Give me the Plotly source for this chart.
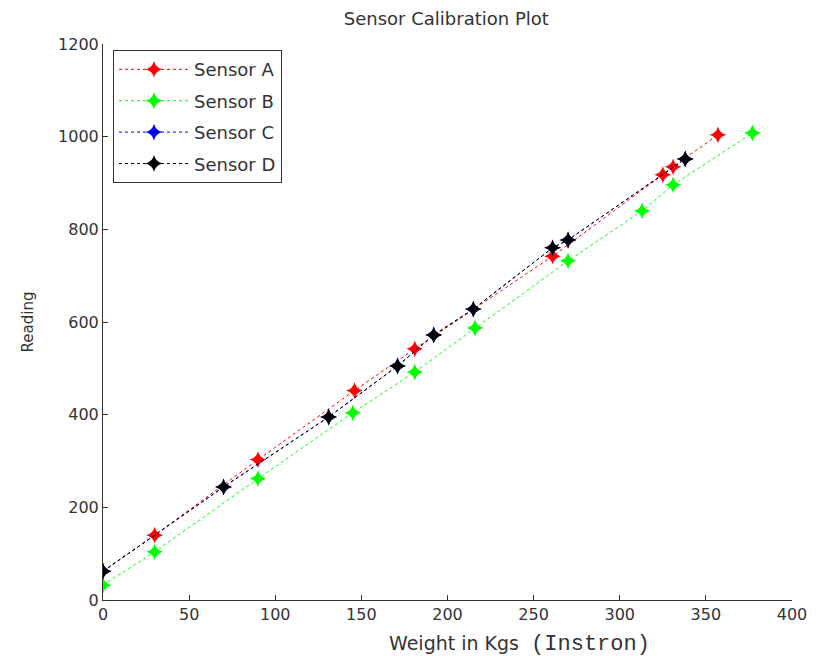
import plotly.graph_objects as go

# Data
a_x = [0, 30, 90, 146, 181, 261, 325, 331, 357]
a_y = [62, 140, 303, 452, 542, 742, 918, 935, 1004]
b_x = [0, 30, 90, 145, 181, 216, 270, 313, 331, 377]
b_y = [32, 104, 262, 404, 492, 587, 732, 840, 896, 1008]
c_x = [0, 70, 131, 171, 192, 215, 261, 270, 338]
c_y = [62, 244, 395, 505, 572, 628, 760, 777, 952]
d_x = [0, 70, 131, 171, 192, 215, 261, 270, 338]
d_y = [62, 244, 395, 505, 572, 628, 760, 777, 952]

names = ["Sensor A", "Sensor B", "Sensor C", "Sensor D"]
colors = ["#ff0000", "#00ff00", "#0000ff", "#000000"]
xs = [a_x, b_x, c_x, d_x]
ys = [a_y, b_y, c_y, d_y]

FONT = "DejaVu Sans, Verdana, Arial"
TXT = "#333"

fig = go.Figure()
for i, (n, c, x, y) in enumerate(zip(names, colors, xs, ys)):
    fig.add_trace(go.Scatter(
        x=x, y=y, name=n, mode="lines+markers",
        legendgroup=n,
        line=dict(color=c, dash="dot", width=1),
        marker=dict(symbol="star-diamond", size=12, color=c,
                    line=dict(width=0)),
    ))

axis_common = dict(
    showgrid=False, zeroline=False, showline=True, linecolor="#333",
    linewidth=1, ticks="inside", ticklen=5, tickcolor="#333",
    tickfont=dict(family=FONT, size=16, color=TXT),
    mirror=False,
)

fig.update_layout(
    width=825, height=656,
    paper_bgcolor="white", plot_bgcolor="white",
    margin=dict(l=103, r=33, t=44, b=56),
    title=dict(text="Sensor Calibration Plot", x=0.541, xanchor="center",
               y=0.972, yanchor="middle",
               font=dict(family=FONT, size=18, color=TXT)),
    xaxis=dict(range=[0, 400], dtick=50, **axis_common),
    yaxis=dict(range=[0, 1200], dtick=200,
               title=dict(text="Reading", standoff=20,
                          font=dict(family=FONT, size=15, color=TXT)),
               **axis_common),
    legend=dict(x=0.0145, y=0.989, xanchor="left", yanchor="top",
                bgcolor="white", bordercolor="#333", borderwidth=1,
                font=dict(family=FONT, size=18, color=TXT),
                tracegroupgap=5, itemwidth=70),
    showlegend=True,
    annotations=[dict(
        text='Weight in Kgs  <span style="font-family:Liberation Mono, Courier New; font-size:22px">(Instron)</span>',
        xref="paper", yref="paper", x=(519 - 103) / 689, y=-0.08,
        xanchor="center", yanchor="middle", showarrow=False,
        font=dict(family=FONT, size=19, color=TXT),
    )],
)

fig.write_html("out.html")
